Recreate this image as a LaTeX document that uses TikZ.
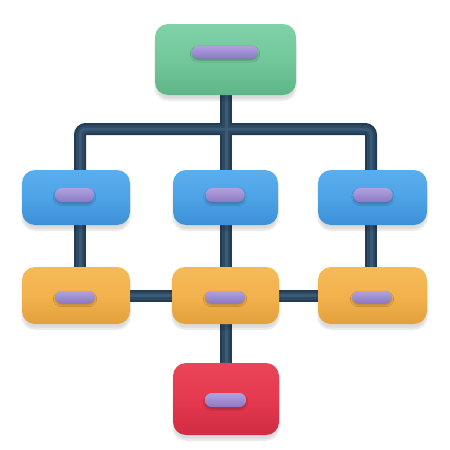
\documentclass[tikz,border=0pt]{standalone}
\usetikzlibrary{shadows.blur,backgrounds,calc}
\definecolor{gmain}{HTML}{72C89B}\definecolor{gtop}{HTML}{80D2A8}\definecolor{gbot}{HTML}{5EB588}
\definecolor{bmain}{HTML}{4DA3E6}\definecolor{btop}{HTML}{5AAEEE}\definecolor{bbot}{HTML}{3D90D6}
\definecolor{omain}{HTML}{F2B24E}\definecolor{otop}{HTML}{F5BA58}\definecolor{obot}{HTML}{E3A03C}
\definecolor{rmain}{HTML}{E5394F}\definecolor{rtop}{HTML}{EA4458}\definecolor{rbot}{HTML}{D02C44}
\definecolor{ptop}{HTML}{B0A2DE}\definecolor{pbot}{HTML}{8C7AC4}
\definecolor{pipeedge}{HTML}{223C53}\definecolor{pipe}{HTML}{2E4A63}\definecolor{pipehi}{HTML}{3A5A76}
\tikzset{
  box/.style={rounded corners=13pt, inner sep=0pt,
    blur shadow={shadow xshift=0pt, shadow yshift=-5pt, shadow blur steps=8, shadow opacity=14}},
  gbox/.style={box, top color=gtop, bottom color=gbot, middle color=gmain},
  bbox/.style={box, top color=btop, bottom color=bbot, middle color=bmain},
  obox/.style={box, top color=otop, bottom color=obot, middle color=omain},
  rbox/.style={box, top color=rtop, bottom color=rbot, middle color=rmain},
  pill/.style={rounded corners=6.5pt, inner sep=0pt, top color=ptop, bottom color=pbot,
    minimum height=13pt,
    blur shadow={shadow xshift=0pt, shadow yshift=-2pt, shadow blur steps=4, shadow opacity=25}},
  pipeA/.style={line width=12pt, draw=pipeedge, rounded corners=6pt},
  pipeB/.style={line width=8pt, draw=pipe, rounded corners=6pt},
  pipeC/.style={line width=3pt, draw=pipehi, rounded corners=6pt}
}
\begin{document}
\begin{tikzpicture}[x=1pt,y=-1pt]
\useasboundingbox (0,0) rectangle (450,450);
% boxes
\node[gbox, minimum width=141pt, minimum height=71pt] (g) at (225.5,59.5) {};
\node[bbox, minimum width=108pt, minimum height=55pt] (bL) at (76,197.5) {};
\node[bbox, minimum width=105pt, minimum height=55pt] (bM) at (225.5,197.5) {};
\node[bbox, minimum width=109pt, minimum height=55pt] (bR) at (372.5,197.5) {};
\node[obox, minimum width=108pt, minimum height=57pt] (oL) at (76,295.5) {};
\node[obox, minimum width=107pt, minimum height=57pt] (oM) at (225.5,295.5) {};
\node[obox, minimum width=109pt, minimum height=57pt] (oR) at (372.5,295.5) {};
\node[rbox, minimum width=106pt, minimum height=72pt] (r) at (226,399) {};
% pills
\node[pill, minimum width=66pt] (gp) at (225,52) {};
\node[pill, minimum width=39pt, minimum height=14pt] (bLp) at (74.5,195) {};
\node[pill, minimum width=39pt, minimum height=14pt] (bMp) at (225,195) {};
\node[pill, minimum width=39pt, minimum height=14pt] (bRp) at (373,195) {};
\node[pill, minimum width=40pt, minimum height=12pt] (oLp) at (75,297) {};
\node[pill, minimum width=40pt, minimum height=12pt] (oMp) at (225,297) {};
\node[pill, minimum width=40pt, minimum height=12pt] (oRp) at (372,297) {};
\node[pill, minimum width=41pt, minimum height=14pt] (rp) at (225.5,400) {};
\coordinate (j) at (226,129);
\coordinate (tL) at (80,170); \coordinate (tR) at (371,170);
\coordinate (uL) at (80,225); \coordinate (uR) at (371,225);
\coordinate (vL) at (80,267); \coordinate (vR) at (371,267);
% pipes
\begin{scope}[on background layer]
\foreach \s in {pipeA,pipeB,pipeC}{
  \draw[\s] (tL) |- (j) -| (tR);
  \draw[\s] (g.south -| j) -- (bM.north -| j);
  \draw[\s] (uL) -- (vL);
  \draw[\s] (bM.south -| j) -- (oM.north -| j);
  \draw[\s] (uR) -- (vR);
  \draw[\s] (oL.east) -- (oM.west);
  \draw[\s] (oM.east) -- (oR.west);
  \draw[\s] (oM.south -| j) -- (r.north -| j);
}
\end{scope}
\end{tikzpicture}
\end{document}
